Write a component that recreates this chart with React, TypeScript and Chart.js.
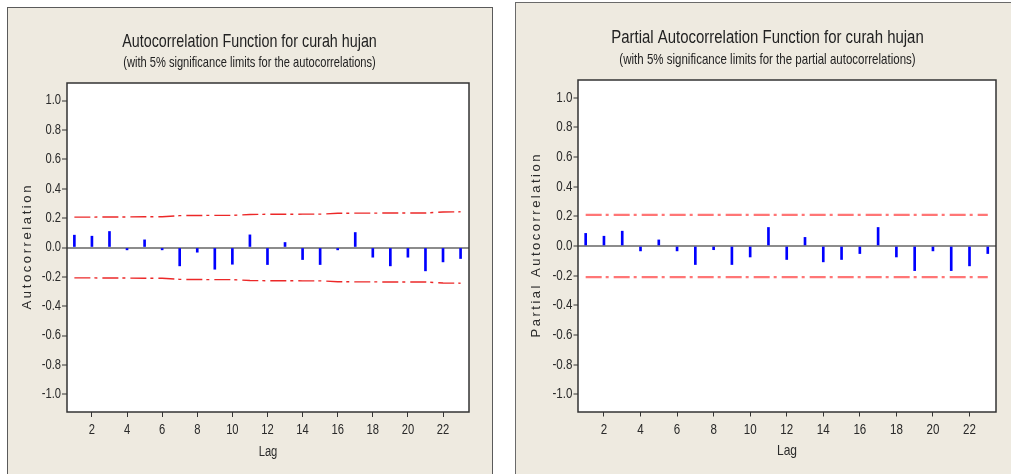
import React, { useEffect, useRef } from "react";
import { Chart, registerables } from "chart.js";

Chart.register(...registerables);

// ---------------- data ----------------
const lags = [1, 2, 3, 4, 5, 6, 7, 8, 9, 10, 11, 12, 13, 14, 15, 16, 17, 18, 19, 20, 21, 22, 23];

const acfValues = [
  0.084, 0.077, 0.109, -0.016, 0.052, -0.016, -0.125, -0.032, -0.148, -0.114, 0.086, -0.116,
  0.034, -0.082, -0.116, -0.016, 0.102, -0.066, -0.125, -0.066, -0.159, -0.098, -0.075,
];
const acfUpper = [
  0.207, 0.207, 0.208, 0.208, 0.209, 0.209, 0.217, 0.218, 0.219, 0.219, 0.225, 0.226,
  0.226, 0.227, 0.227, 0.233, 0.234, 0.234, 0.235, 0.235, 0.235, 0.242, 0.243,
];
const acfLower = [
  -0.207, -0.207, -0.208, -0.208, -0.209, -0.209, -0.217, -0.218, -0.219, -0.219, -0.225, -0.226,
  -0.226, -0.227, -0.227, -0.233, -0.234, -0.234, -0.235, -0.235, -0.235, -0.242, -0.243,
];

const pacfValues = [
  0.085, 0.066, 0.1, -0.033, 0.041, -0.033, -0.125, -0.025, -0.125, -0.074, 0.125, -0.091,
  0.058, -0.107, -0.091, -0.051, 0.125, -0.074, -0.166, -0.033, -0.166, -0.134, -0.051,
];
const pacfUpper = [
  0.21, 0.21, 0.21, 0.21, 0.21, 0.21, 0.21, 0.21, 0.21, 0.21, 0.21, 0.21,
  0.21, 0.21, 0.21, 0.21, 0.21, 0.21, 0.21, 0.21, 0.21, 0.21, 0.21,
];
const pacfLower = [
  -0.21, -0.21, -0.21, -0.21, -0.21, -0.21, -0.21, -0.21, -0.21, -0.21, -0.21, -0.21,
  -0.21, -0.21, -0.21, -0.21, -0.21, -0.21, -0.21, -0.21, -0.21, -0.21, -0.21,
];

const xTicks = [2, 4, 6, 8, 10, 12, 14, 16, 18, 20, 22];
const yTicks = [-1.0, -0.8, -0.6, -0.4, -0.2, 0.0, 0.2, 0.4, 0.6, 0.8, 1.0];

// ---------------- styling ----------------
const FONT = "'Liberation Sans', Arial, sans-serif";
const TEXT_SX = 0.8; // horizontal compression to mimic the narrow Minitab font
const PANEL_BG = "#eeeae0";

type Spec = {
  title: string;
  subtitle: string;
  yLabel: string;
  values: number[];
  upper: number[];
  lower: number[];
  width: number;
  height: number;
  padLeft: number;
  area: { left: number; right: number; top: number; bottom: number };
  xMin: number;
  xMax: number;
  yMin: number;
  yMax: number;
  titleSize: number;
  titlePadTop: number;
  subSize: number;
  subPadTop: number;
  tickSize: number;
  xTickPad: number;
  lagSize: number;
  lagPadBottom: number;
  xScaleHeight: number;
  yLabelX: number;
  yLabelSize: number;
  yLabelSpacing: number;
  tickLen: number;
  yTickPad: number;
  limitColor: string;
  limitWidth: number;
  barWidth: number;
};

function buildConfig(s: Spec): any {
  const titleLH = s.titleSize * 1.2;
  const subLH = s.subSize * 1.2;
  const subPadBottom = s.area.top - (s.titlePadTop + titleLH + s.subPadTop + subLH);

  const panelPlugin = {
    id: "panelDecor",
    beforeDraw(chart: any) {
      const { ctx, chartArea: a } = chart;
      ctx.save();
      ctx.fillStyle = "#ffffff";
      ctx.fillRect(a.left, a.top, a.right - a.left, a.bottom - a.top);
      ctx.restore();
    },
    afterDraw(chart: any) {
      const { ctx, chartArea: a } = chart;
      ctx.save();
      ctx.strokeStyle = "#333333";
      ctx.lineWidth = 1.5;
      ctx.strokeRect(a.left, a.top, a.right - a.left, a.bottom - a.top);
      ctx.restore();

      ctx.save();
      ctx.translate(s.yLabelX, (a.top + a.bottom) / 2);
      ctx.rotate(-Math.PI / 2);
      ctx.font = `${s.yLabelSize}px ${FONT}`;
      (ctx as any).letterSpacing = `${s.yLabelSpacing}px`;
      ctx.textAlign = "center";
      ctx.textBaseline = "middle";
      ctx.fillStyle = "#2a2a2a";
      const draw = (ctx as any).__origFillText || ctx.fillText.bind(ctx);
      draw(s.yLabel, s.yLabelSpacing / 2, 0);
      ctx.restore();
    },
  };

  const limitDs = (vals: number[]) => ({
    type: "line",
    data: lags.map((l, i) => ({ x: l, y: vals[i] })),
    borderColor: s.limitColor,
    borderWidth: s.limitWidth,
    borderDash: [16, 4, 3, 5],
    pointRadius: 0,
    fill: false,
    tension: 0,
    order: 1,
  });

  return {
    type: "bar",
    data: {
      datasets: [
        {
          type: "bar",
          data: lags.map((l, i) => ({ x: l, y: s.values[i] })),
          backgroundColor: "#0000ff",
          borderWidth: 0,
          barThickness: s.barWidth,
          order: 2,
        },
        limitDs(s.upper),
        limitDs(s.lower),
      ],
    },
    plugins: [panelPlugin],
    options: {
      responsive: false,
      animation: false,
      devicePixelRatio: 1,
      layout: {
        padding: {
          left: s.padLeft,
          top: 0,
          right: s.width - s.area.right,
          bottom: s.height - s.area.bottom - s.xScaleHeight,
        },
      },
      plugins: {
        legend: { display: false },
        tooltip: { enabled: false },
        title: {
          display: true,
          text: s.title,
          color: "#222222",
          font: { family: FONT, size: s.titleSize, weight: "normal", lineHeight: 1.2 },
          padding: { top: s.titlePadTop, bottom: 0 },
        },
        subtitle: {
          display: true,
          text: s.subtitle,
          color: "#222222",
          font: { family: FONT, size: s.subSize, weight: "normal", lineHeight: 1.2 },
          padding: { top: s.subPadTop, bottom: subPadBottom },
        },
      },
      scales: {
        x: {
          type: "linear",
          min: s.xMin,
          max: s.xMax,
          offset: false,
          afterBuildTicks: (sc: any) => {
            sc.ticks = xTicks.map((v) => ({ value: v }));
          },
          afterFit: (sc: any) => {
            sc.height = s.xScaleHeight;
          },
          ticks: {
            autoSkip: false,
            maxRotation: 0,
            color: "#2a2a2a",
            padding: s.xTickPad,
            font: { family: FONT, size: s.tickSize },
            callback: (v: any) => String(v),
          },
          grid: {
            offset: false,
            drawOnChartArea: false,
            tickLength: s.tickLen,
            tickColor: "#333333",
            tickWidth: 1,
          },
          border: { display: false },
          title: {
            display: true,
            text: "Lag",
            color: "#2a2a2a",
            font: { family: FONT, size: s.lagSize, lineHeight: 1.2 },
            padding: { top: 0, bottom: s.lagPadBottom },
          },
        },
        y: {
          type: "linear",
          min: s.yMin,
          max: s.yMax,
          afterBuildTicks: (sc: any) => {
            sc.ticks = yTicks.map((v) => ({ value: v }));
          },
          afterFit: (sc: any) => {
            sc.width = s.area.left - s.padLeft;
          },
          ticks: {
            color: "#2a2a2a",
            padding: s.yTickPad,
            font: { family: FONT, size: s.tickSize },
            callback: (v: any) => Number(v).toFixed(1),
          },
          grid: {
            drawOnChartArea: true,
            color: (c: any) => (c.tick && Math.abs(c.tick.value) < 1e-9 ? "#8c8c8c" : "rgba(0,0,0,0)"),
            lineWidth: (c: any) => (c.tick && Math.abs(c.tick.value) < 1e-9 ? 2 : 0),
            tickLength: s.tickLen,
            tickColor: "#333333",
            tickWidth: 1,
          },
          border: { display: false },
        },
      },
    },
  };
}

function ChartCanvas({ spec }: { spec: Spec }) {
  const ref = useRef<HTMLCanvasElement | null>(null);
  useEffect(() => {
    const canvas = ref.current;
    if (!canvas) return;
    const ctx = canvas.getContext("2d") as any;
    if (ctx && !ctx.__origFillText) {
      const orig = ctx.fillText.bind(ctx);
      ctx.__origFillText = orig;
      ctx.fillText = (t: string, x: number, y: number) => {
        ctx.save();
        ctx.translate(x, y);
        ctx.scale(TEXT_SX, 1);
        orig(t, 0, 0);
        ctx.restore();
      };
    }
    const chart = new Chart(canvas, buildConfig(spec));
    return () => chart.destroy();
  }, [spec]);
  return (
    <canvas
      ref={ref}
      width={spec.width}
      height={spec.height}
      style={{ position: "absolute", left: 0, top: 0, width: spec.width, height: spec.height }}
    />
  );
}

const leftSpec: Spec = {
  title: "Autocorrelation Function for curah hujan",
  subtitle: "(with 5% significance limits for the autocorrelations)",
  yLabel: "Autocorrelation",
  values: acfValues,
  upper: acfUpper,
  lower: acfLower,
  width: 484,
  height: 466,
  padLeft: 22,
  area: { left: 59, right: 461, top: 75, bottom: 404 },
  xMin: 0.58,
  xMax: 23.48,
  yMin: -1.12,
  yMax: 1.12,
  titleSize: 17.9,
  titlePadTop: 23.3,
  subSize: 13.9,
  subPadTop: 1.9,
  tickSize: 14,
  xTickPad: 5,
  lagSize: 14,
  lagPadBottom: 11,
  xScaleHeight: 60,
  yLabelX: 19,
  yLabelSize: 13,
  yLabelSpacing: 2.6,
  tickLen: 5,
  yTickPad: 1,
  limitColor: "rgb(236, 40, 40)",
  limitWidth: 1.4,
  barWidth: 2,
};

const rightSpec: Spec = {
  title: "Partial Autocorrelation Function for curah hujan",
  subtitle: "(with 5% significance limits for the partial autocorrelations)",
  yLabel: "Partial Autocorrelation",
  values: pacfValues,
  upper: pacfUpper,
  lower: pacfLower,
  width: 503,
  height: 471,
  padLeft: 23,
  area: { left: 62, right: 480, top: 77, bottom: 409 },
  xMin: 0.58,
  xMax: 23.45,
  yMin: -1.12,
  yMax: 1.12,
  titleSize: 18.7,
  titlePadTop: 24,
  subSize: 14.4,
  subPadTop: 1.9,
  tickSize: 14.5,
  xTickPad: 5,
  lagSize: 15,
  lagPadBottom: 12,
  xScaleHeight: 60,
  yLabelX: 20,
  yLabelSize: 13,
  yLabelSpacing: 2.5,
  tickLen: 4.5,
  yTickPad: 1,
  limitColor: "rgb(255, 118, 118)",
  limitWidth: 2.3,
  barWidth: 2,
};

export default function App() {
  return (
    <div
      style={{
        position: "fixed",
        left: 0,
        top: 0,
        width: 1011,
        height: 474,
        background: "#ffffff",
        overflow: "hidden",
      }}
    >
      <div
        style={{
          position: "absolute",
          left: 7,
          top: 7,
          width: 484,
          height: 480,
          background: PANEL_BG,
          border: "1px solid #5a5a5a",
          overflow: "hidden",
        }}
      >
        <ChartCanvas spec={leftSpec} />
      </div>
      <div
        style={{
          position: "absolute",
          left: 515,
          top: 2,
          width: 520,
          height: 480,
          background: PANEL_BG,
          borderLeft: "1px solid #6a6a6a",
          borderTop: "1px solid #6a6a6a",
          overflow: "hidden",
        }}
      >
        <ChartCanvas spec={rightSpec} />
      </div>
    </div>
  );
}
